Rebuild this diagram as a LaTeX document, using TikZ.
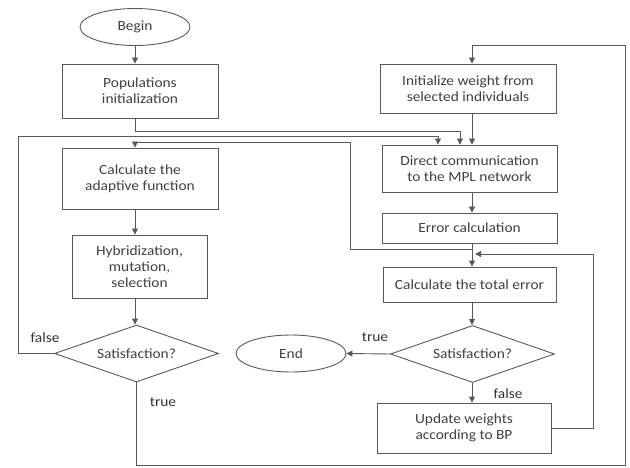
\documentclass[tikz,border=0pt]{standalone}
\usepackage{fontspec}
\setmainfont{Carlito}[FakeStretch=1.1]
\usetikzlibrary{shapes.geometric,arrows.meta}
\begin{document}
\begin{tikzpicture}[x=1pt,y=-1pt,
  font=\fontsize{14}{16}\selectfont, text=black!75,
  box/.style={draw=black!65, line width=0.9pt, rectangle, align=center, inner sep=2pt},
  term/.style={draw=black!65, line width=0.9pt, ellipse, minimum width=110pt, minimum height=37pt, inner sep=0pt},
  dec/.style={draw=black!65, line width=0.9pt, diamond, aspect=2.86, minimum width=164pt, minimum height=57pt, inner sep=0pt},
  conn/.style={draw=black!65, line width=0.9pt},
  arr/.style={conn, -{Triangle[length=6pt,width=6pt]}},
  lbl/.style={text=black!80, inner sep=0pt}
]
\useasboundingbox (0,0) rectangle (630,468);
\coordinate (L) at (135,0);
\coordinate (R) at (472,0);
\coordinate (a460) at (460,0);
\coordinate (a438) at (438,0);

\node[term] (begin) at (135,27) {Begin};
\node[box, minimum width=156pt, minimum height=54pt] (pop) at (140,91) {Populations\\initialization};
\node[box, minimum width=156pt, minimum height=61pt] (fit) at (140,178.5) {Calculate the\\adaptive function};
\node[box, minimum width=135pt, minimum height=63pt] (hyb) at (139.5,266.5) {Hybridization,\\mutation,\\selection};
\node[dec] (sat1) at (136.5,353.5) {Satisfaction?};
\node[term] (end) at (291,353.5) {End};
\node[box, minimum width=176pt, minimum height=49pt] (init) at (468,88.5) {Initialize weight from\\selected individuals};
\node[box, minimum width=175pt, minimum height=47pt] (dir) at (469.5,168.5) {Direct communication\\to the MPL network};
\node[box, minimum width=175pt, minimum height=30pt] (err) at (469.5,228) {Error calculation};
\node[box, minimum width=173pt, minimum height=35pt] (tot) at (469.5,284.5) {Calculate the total error};
\node[dec] (sat2) at (472.5,354) {Satisfaction?};
\node[box, minimum width=174pt, minimum height=50pt] (upd) at (464,428) {Update weights\\according to BP};

% left column
\draw[arr] (begin.south) -- (pop.north -| L);
\draw[arr] (fit.south -| L) -- (hyb.north -| L);
\draw[arr] (hyb.south -| L) -- (sat1.north -| L);
\draw[arr] (pop.south -| L) |- (460,131) -- (dir.north -| a460);
\draw[arr] (sat1.west) -- (18,353.5) -- (18,136) -| (dir.north -| a438);
\draw[arr] (sat1.south) -- (136.5,465) -- (625,465) -- (625,45) -| (init.north -| R);
\draw[arr] (472,249) -- (350,249) -- (350,142) -| (fit.north -| L);

% right column
\draw[arr] (init.south -| R) -- (dir.north -| R);
\draw[arr] (dir.south -| R) -- (err.north -| R);
\draw[arr] (err.south -| R) -- (tot.north -| R);
\draw[arr] (tot.south -| R) -- (sat2.north -| R);
\draw[arr] (sat2.south -| R) -- (upd.north -| R);
\draw[arr] (sat2.west) -- (end.east);
\draw[arr] (upd.east) -- (593,428) -- (593,254) -- (475,254);

% labels
\node[lbl] (f1) at (45,338) {false};
\node[lbl] (t1) at (163,402) {true};
\node[lbl] (t2) at (375,337) {true};
\node[lbl] (f2) at (508,394) {false};
\end{tikzpicture}
\end{document}
